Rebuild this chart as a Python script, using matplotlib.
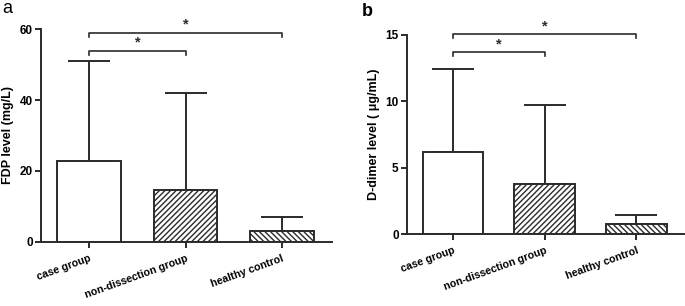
import matplotlib
matplotlib.use("Agg")
import matplotlib.pyplot as plt
import numpy as np

plt.rcParams['font.family'] = ['Liberation Sans', 'DejaVu Sans']
plt.rcParams['hatch.linewidth'] = 1.0

categories = ["case group", "non-dissection group", "healthy control"]
fdp_mean = [22.7, 14.7, 3.2]
fdp_sd = [28.4, 27.4, 3.8]
dd_mean = [6.15, 3.75, 0.75]
dd_sd = [6.25, 6.0, 0.7]
hatches = ["", "//////", "\\\\\\\\\\\\"]

EC = "#2b2b2b"
fig = plt.figure(figsize=(6.85, 3.06), dpi=100)

def panel(rect, means, sds, ylim, yticks, ylabel, brackets, letter, letter_bold, letter_pos):
    ax = fig.add_axes(rect)
    x = np.arange(len(categories))
    ax.errorbar(x, means, yerr=[np.zeros(len(sds)), sds], fmt='none',
                ecolor=EC, elinewidth=1.4, capsize=15, capthick=1.4, zorder=1)
    for xi, m, h in zip(x, means, hatches):
        ax.bar(xi, m, width=0.66, color='white', edgecolor=EC, linewidth=1.4,
               hatch=h, zorder=2)
    ax.set_xlim(-0.5, 2.52)
    ax.set_ylim(*ylim)
    ax.set_yticks(yticks)
    ax.set_xticks(x)
    ax.set_xticklabels(categories, rotation=20, ha='right', rotation_mode='anchor',
                       fontsize=7.7, fontweight='bold')
    for lab in ax.get_yticklabels():
        lab.set_fontweight('bold')
        lab.set_fontsize(8.5)
    ax.set_ylabel(ylabel, fontsize=9.0, fontweight='bold', labelpad=4)
    for s in ['top', 'right']:
        ax.spines[s].set_visible(False)
    for s in ['left', 'bottom']:
        ax.spines[s].set_linewidth(1.4)
        ax.spines[s].set_color(EC)
    ax.tick_params(axis='both', width=1.4, length=4, color=EC, pad=2)
    ax.tick_params(axis='x', pad=4)
    for (i, j, yb, drop) in brackets:
        ax.plot([i, i, j, j], [yb - drop, yb, yb, yb - drop], color=EC, lw=1.2,
                clip_on=False, zorder=3)
        ax.text((i + j) / 2, yb + drop * 0.2, "*", ha='center', va='bottom',
                fontsize=10.5, fontweight='bold', color=EC, clip_on=False)
    fig.text(letter_pos[0], letter_pos[1], letter, fontsize=13,
             fontweight='bold' if letter_bold else 'normal', ha='left', va='top')
    return ax

panel([0.0599, 0.2092, 0.4248, 0.696], fdp_mean, fdp_sd, (0, 60), [0, 20, 40, 60],
      "FDP level (mg/L)", [(0, 1, 53.9, 1.1), (0, 2, 59.0, 1.2)], "a", False, (0.003, 1.0))
panel([0.5942, 0.2343, 0.4045, 0.6523], dd_mean, dd_sd, (0, 15), [0, 5, 10, 15],
      "D-dimer level ( \u03bcg/mL)", [(0, 1, 13.67, 0.3), (0, 2, 15.02, 0.3)], "b", True, (0.528, 0.99))

fig.savefig("out.png", dpi=100)
